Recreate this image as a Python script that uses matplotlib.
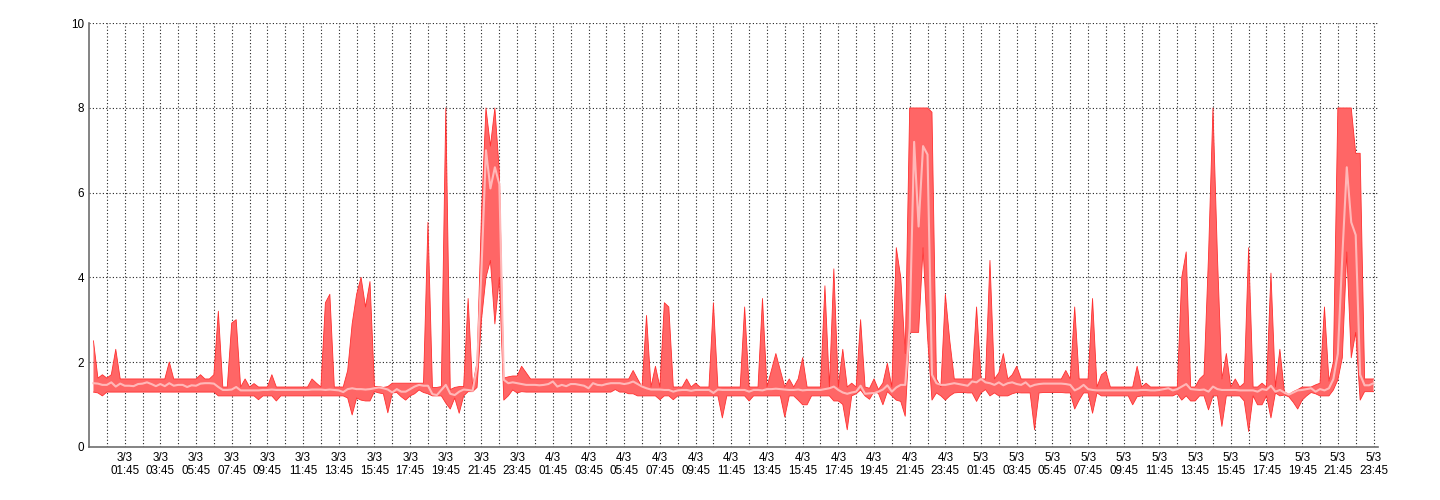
import numpy as np
import matplotlib
matplotlib.use("Agg")
import matplotlib.pyplot as plt
from matplotlib.ticker import FixedLocator, NullFormatter

# ---- data: 15-minute samples from 3/3 00:00 to 5/3 23:45 ----
max_vals = [
    2.5, 1.62, 1.7, 1.62, 1.7, 2.3, 1.6, 1.6,
    1.6, 1.6, 1.6, 1.6, 1.6, 1.6, 1.6, 1.6,
    1.6, 2.0, 1.6, 1.6, 1.6, 1.6, 1.6, 1.6,
    1.7, 1.6, 1.6, 1.7, 3.2, 1.41, 1.41, 2.92,
    3.0, 1.41, 1.6, 1.41, 1.49, 1.41, 1.41, 1.41,
    1.7, 1.41, 1.41, 1.41, 1.41, 1.41, 1.41, 1.41,
    1.41, 1.6, 1.5, 1.41, 3.4, 3.6, 1.41, 1.41,
    1.41, 1.8, 2.9, 3.6, 4.0, 3.3, 3.9, 1.42,
    1.42, 1.4, 1.42, 1.5, 1.5, 1.5, 1.5, 1.5,
    1.5, 1.5, 1.5, 5.3, 1.4, 1.4, 1.42, 8.0,
    1.35, 1.4, 1.42, 1.42, 3.5, 1.42, 2.0, 5.5,
    8.0, 7.1, 8.0, 6.5, 1.62, 1.65, 1.67, 1.67,
    1.9, 1.75, 1.6, 1.6, 1.6, 1.6, 1.6, 1.6,
    1.6, 1.6, 1.6, 1.6, 1.6, 1.6, 1.6, 1.6,
    1.6, 1.6, 1.6, 1.6, 1.6, 1.6, 1.6, 1.6,
    1.6, 1.8, 1.6, 1.41, 3.1, 1.41, 1.9, 1.41,
    3.4, 3.3, 1.41, 1.41, 1.41, 1.6, 1.41, 1.5,
    1.41, 1.41, 1.41, 3.4, 1.41, 1.41, 1.41, 1.41,
    1.41, 1.41, 3.3, 1.41, 1.41, 1.41, 3.5, 1.41,
    1.8, 2.2, 1.8, 1.41, 1.6, 1.41, 1.6, 2.1,
    1.41, 1.41, 1.41, 1.41, 3.8, 1.41, 4.2, 1.41,
    2.3, 1.41, 1.5, 1.41, 3.0, 1.41, 1.38, 1.6,
    1.35, 1.5, 1.97, 1.41, 4.7, 4.0, 2.2, 8.0,
    8.0, 8.0, 8.0, 8.0, 7.9, 1.6, 1.41, 3.6,
    2.5, 1.6, 1.6, 1.6, 1.6, 1.6, 3.3, 1.6,
    1.6, 4.4, 1.6, 1.75, 2.2, 1.6, 1.7, 1.9,
    1.6, 1.6, 1.6, 1.6, 1.6, 1.6, 1.6, 1.6,
    1.6, 1.6, 1.8, 1.6, 3.3, 1.6, 1.6, 1.6,
    3.5, 1.41, 1.7, 1.78, 1.41, 1.41, 1.41, 1.41,
    1.41, 1.41, 1.9, 1.41, 1.5, 1.41, 1.41, 1.41,
    1.41, 1.41, 1.41, 1.41, 4.0, 4.6, 1.41, 1.41,
    1.6, 1.7, 4.5, 8.0, 4.5, 1.6, 2.2, 1.41,
    1.6, 1.41, 1.5, 4.7, 1.41, 1.41, 1.5, 1.41,
    4.1, 1.41, 2.3, 1.3, 1.23, 1.3, 1.35, 1.41,
    1.41, 1.41, 1.46, 1.5, 3.3, 1.55, 2.0, 8.0,
    8.0, 8.0, 8.0, 6.93, 6.93, 1.6, 1.6, 1.6,
]

min_vals = [
    1.29, 1.27, 1.2, 1.29, 1.29, 1.29, 1.29, 1.29,
    1.29, 1.29, 1.29, 1.29, 1.29, 1.29, 1.29, 1.29,
    1.29, 1.29, 1.29, 1.29, 1.29, 1.29, 1.29, 1.29,
    1.29, 1.29, 1.29, 1.29, 1.2, 1.2, 1.2, 1.2,
    1.2, 1.2, 1.2, 1.2, 1.2, 1.11, 1.2, 1.2,
    1.2, 1.08, 1.2, 1.2, 1.2, 1.2, 1.2, 1.2,
    1.2, 1.2, 1.2, 1.2, 1.2, 1.2, 1.2, 1.2,
    1.2, 1.15, 0.75, 1.15, 1.1, 1.08, 1.08, 1.3,
    1.27, 1.25, 0.8, 1.27, 1.28, 1.18, 1.1, 1.2,
    1.25, 1.34, 1.28, 1.25, 1.2, 1.2, 1.2, 1.03,
    0.89, 1.15, 0.79, 1.2, 1.3, 1.3, 1.4, 3.0,
    4.0, 4.4, 2.9, 4.0, 1.1, 1.2, 1.34, 1.27,
    1.3, 1.29, 1.29, 1.29, 1.29, 1.29, 1.29, 1.29,
    1.29, 1.29, 1.29, 1.29, 1.29, 1.29, 1.29, 1.29,
    1.29, 1.29, 1.29, 1.29, 1.29, 1.35, 1.29, 1.29,
    1.25, 1.25, 1.2, 1.2, 1.2, 1.2, 1.2, 1.11,
    1.2, 1.2, 1.11, 1.2, 1.2, 1.2, 1.2, 1.2,
    1.2, 1.2, 1.2, 1.2, 1.2, 0.68, 1.2, 1.2,
    1.2, 1.2, 1.2, 1.08, 1.2, 1.2, 1.2, 1.2,
    1.2, 1.2, 1.2, 0.7, 1.2, 1.2, 1.1, 0.99,
    0.99, 1.2, 1.2, 1.2, 1.2, 1.2, 1.08, 1.08,
    1.0, 0.4, 1.2, 1.25, 1.34, 1.2, 1.12, 1.3,
    1.26, 0.99, 1.3, 1.2, 1.1, 1.07, 0.72, 2.7,
    2.7, 2.7, 4.7, 2.6, 1.1, 1.27, 1.2, 1.1,
    1.2, 1.27, 1.28, 1.28, 1.27, 1.27, 1.07, 1.27,
    1.35, 1.2, 1.27, 1.2, 1.2, 1.2, 1.25, 1.28,
    1.27, 1.27, 1.27, 0.4, 1.27, 1.28, 1.28, 1.28,
    1.28, 1.28, 1.27, 1.27, 0.89, 1.1, 1.27, 1.27,
    0.79, 1.27, 1.2, 1.2, 1.2, 1.2, 1.2, 1.2,
    1.2, 0.99, 1.18, 1.2, 1.2, 1.2, 1.2, 1.2,
    1.2, 1.2, 1.2, 1.25, 1.1, 1.2, 1.08, 1.08,
    1.2, 1.2, 0.87, 1.2, 1.2, 0.48, 1.2, 1.2,
    1.2, 1.2, 1.08, 0.36, 1.2, 0.99, 0.99, 1.2,
    0.68, 1.27, 1.2, 1.22, 1.18, 1.05, 0.89, 1.1,
    1.2, 1.28, 1.25, 1.2, 1.2, 1.2, 1.34, 1.58,
    2.1, 4.6, 2.1, 2.7, 1.1, 1.3, 1.3, 1.3,
]

avg_vals = [
    1.5, 1.49, 1.46, 1.46, 1.52, 1.42, 1.49, 1.44,
    1.44, 1.43, 1.48, 1.49, 1.52, 1.48, 1.43, 1.48,
    1.43, 1.5, 1.44, 1.46, 1.46, 1.41, 1.45, 1.44,
    1.49, 1.5, 1.5, 1.49, 1.41, 1.34, 1.34, 1.35,
    1.41, 1.33, 1.33, 1.33, 1.33, 1.33, 1.34, 1.34,
    1.35, 1.34, 1.34, 1.34, 1.34, 1.34, 1.34, 1.34,
    1.34, 1.35, 1.35, 1.35, 1.34, 1.35, 1.34, 1.33,
    1.29, 1.36, 1.38, 1.36, 1.36, 1.35, 1.36, 1.38,
    1.4, 1.38, 1.35, 1.28, 1.36, 1.3, 1.3, 1.36,
    1.42, 1.46, 1.44, 1.44, 1.24, 1.22, 1.34, 1.46,
    1.25, 1.22, 1.3, 1.35, 1.34, 1.32, 1.9, 4.2,
    7.0, 6.1, 6.6, 6.2, 1.58, 1.5, 1.52, 1.5,
    1.48, 1.46, 1.46, 1.46, 1.45, 1.46, 1.48, 1.54,
    1.42, 1.46, 1.43, 1.48, 1.48, 1.46, 1.44, 1.38,
    1.5, 1.46, 1.45, 1.48, 1.5, 1.5, 1.5, 1.48,
    1.5, 1.54, 1.48, 1.42, 1.38, 1.35, 1.35, 1.35,
    1.34, 1.34, 1.3, 1.33, 1.34, 1.34, 1.32, 1.34,
    1.34, 1.34, 1.34, 1.27, 1.35, 1.34, 1.34, 1.34,
    1.34, 1.34, 1.34, 1.3, 1.34, 1.34, 1.33, 1.36,
    1.36, 1.37, 1.36, 1.35, 1.34, 1.34, 1.35, 1.33,
    1.34, 1.34, 1.34, 1.34, 1.36, 1.38, 1.42, 1.34,
    1.28, 1.25, 1.28, 1.3, 1.44, 1.25, 1.26, 1.27,
    1.3, 1.35, 1.45, 1.3, 1.4, 1.46, 1.46, 2.8,
    7.2, 5.2, 7.1, 6.9, 1.7, 1.5, 1.46, 1.46,
    1.48, 1.5, 1.48, 1.46, 1.44, 1.54, 1.52, 1.6,
    1.52, 1.5, 1.46, 1.52, 1.45, 1.5, 1.52, 1.48,
    1.46, 1.52, 1.42, 1.46, 1.48, 1.49, 1.49, 1.49,
    1.49, 1.49, 1.48, 1.46, 1.33, 1.38, 1.46, 1.36,
    1.34, 1.33, 1.33, 1.33, 1.33, 1.33, 1.33, 1.33,
    1.33, 1.33, 1.33, 1.34, 1.34, 1.33, 1.33, 1.34,
    1.36, 1.38, 1.33, 1.36, 1.42, 1.48, 1.36, 1.35,
    1.34, 1.35, 1.3, 1.42, 1.36, 1.34, 1.34, 1.34,
    1.34, 1.33, 1.33, 1.33, 1.33, 1.3, 1.36, 1.34,
    1.44, 1.3, 1.34, 1.28, 1.23, 1.28, 1.33, 1.34,
    1.36, 1.38, 1.3, 1.36, 1.33, 1.38, 1.6, 2.2,
    4.5, 6.6, 5.3, 5.0, 1.7, 1.45, 1.45, 1.5,
]

days = ["3/3", "4/3", "5/3"]
label_times = ["01:45", "03:45", "05:45", "07:45", "09:45", "11:45",
               "13:45", "15:45", "17:45", "19:45", "21:45", "23:45"]
tick_labels = [f"{d}\n{t}" for d in days for t in label_times]
y_ticks = [0, 2, 4, 6, 8, 10]

# ---- figure ----
plt.rcParams['font.family'] = ['Liberation Sans', 'DejaVu Sans']
fig = plt.figure(figsize=(14.4, 5.0), dpi=100)
ax = fig.add_axes([89/1440, 1 - 446.7/500, (1378 - 89)/1440, (446.7 - 23.3)/500])

n = len(max_vals)
x = np.arange(n) * 0.25  # hours since 3/3 00:00

ax.fill_between(x, min_vals, max_vals, facecolor='#FF6666', edgecolor='none', zorder=2)
ax.plot(x, max_vals, color='#FF3030', lw=0.6, zorder=3)
ax.plot(x, min_vals, color='#FF3030', lw=0.6, zorder=3)
ax.plot(x, avg_vals, color='#FFB8B8', lw=1.5, zorder=4, solid_joinstyle='round')

ax.set_xlim(-0.25, 72.0)
ax.set_ylim(0, 10)

major_pos = [1.75 + 2 * k for k in range(len(tick_labels))]
minor_pos = [0.75 + 2 * k for k in range(len(tick_labels))]
ax.xaxis.set_major_locator(FixedLocator(major_pos))
ax.set_xticklabels(tick_labels)
ax.xaxis.set_minor_locator(FixedLocator(minor_pos))
ax.xaxis.set_minor_formatter(NullFormatter())
ax.set_yticks(y_ticks)
ax.set_yticklabels([str(v) for v in y_ticks])

for lab in ax.get_xticklabels():
    lab.set_linespacing(1.05)
ax.tick_params(axis='x', which='both', length=0, pad=4, labelsize=8.4, colors='black')
ax.tick_params(axis='y', which='both', length=0, pad=3.5, labelsize=8.4, colors='black')

grid_kw = dict(color='#222222', linestyle=(0, (1, 2)), linewidth=0.8)
ax.grid(True, which='both', axis='x', **grid_kw)
ax.grid(True, which='major', axis='y', **grid_kw)
ax.set_axisbelow(True)

for s in ['top', 'right']:
    ax.spines[s].set_visible(False)
for s in ['left', 'bottom']:
    ax.spines[s].set_color('#6e6e6e')
    ax.spines[s].set_linewidth(1.2)

fig.savefig('out.png', dpi=100, facecolor='white')
